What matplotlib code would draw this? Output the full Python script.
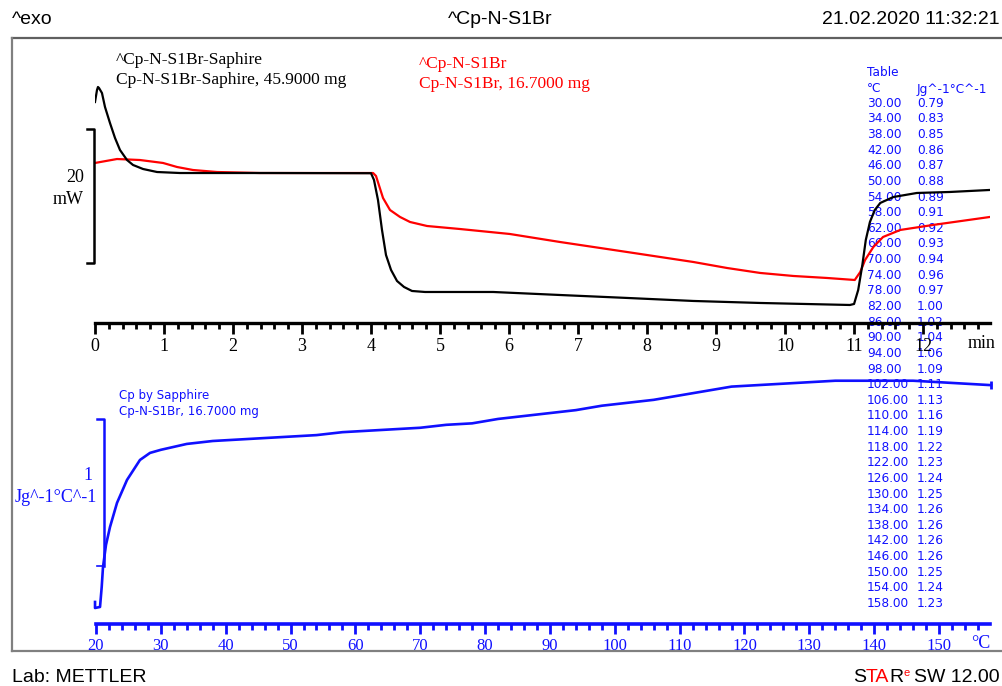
import numpy as np
import matplotlib
matplotlib.use("Agg")
import matplotlib.pyplot as plt
from matplotlib.ticker import MultipleLocator

# DSC signals, time in min, heat flow in mW (arbitrary offset)
black_t = [0, 0.029, 0.043, 0.058, 0.101, 0.145, 0.217, 0.29, 0.362, 0.464, 0.551, 0.696,
           0.899, 1.232, 2.5, 4.0, 4.043, 4.101, 4.159, 4.217, 4.29, 4.377, 4.478, 4.594,
           4.783, 5.77, 6.74, 7.71, 8.67, 9.64, 10.94, 11.0, 11.06, 11.12, 11.17, 11.23,
           11.3, 11.38, 11.57, 11.91, 12.39, 12.97]
black_mw = [24.03, 25.82, 26.27, 26.12, 25.37, 23.28, 20.9, 18.66, 16.87, 15.37, 14.63, 14.03,
            13.58, 13.43, 13.43, 13.4, 12.39, 9.4, 4.93, 1.19, -1.04, -2.69, -3.58, -4.18,
            -4.33, -4.33, -4.78, -5.22, -5.67, -5.97, -6.27, -6.12, -4.03, -0.3, 3.43, 6.12,
            7.91, 8.96, 9.85, 10.45, 10.6, 10.9]

red_t = [0, 0.319, 0.652, 0.986, 1.188, 1.42, 1.768, 2.39, 4.03, 4.072, 4.174, 4.275, 4.42,
         4.565, 4.812, 5.29, 6.01, 6.74, 7.71, 8.67, 9.16, 9.64, 10.12, 10.61, 11.01, 11.09,
         11.16, 11.28, 11.42, 11.67, 12.14, 12.97]
red_mw = [14.93, 15.52, 15.37, 14.93, 14.33, 13.88, 13.58, 13.43, 13.43, 12.99, 9.7, 7.91, 6.87,
          6.12, 5.52, 5.07, 4.33, 3.13, 1.64, 0.15, -0.75, -1.49, -1.94, -2.24, -2.54, -1.34,
          0.45, 2.39, 3.88, 4.93, 5.67, 6.87]

# Cp by sapphire: start-up part then the tabulated values
ramp_temp = [19.85, 19.85, 20.62, 20.88, 21.08, 21.54, 22.16, 23.24, 24.78, 26.78, 28.33]
ramp_cp = [-0.245, -0.286, -0.279, -0.143, -0.007, 0.143, 0.265, 0.429, 0.585, 0.721, 0.769]

table_temp = [30, 34, 38, 42, 46, 50, 54, 58, 62, 66, 70, 74, 78, 82, 86, 90, 94, 98, 102,
              106, 110, 114, 118, 122, 126, 130, 134, 138, 142, 146, 150, 154, 158]
table_cp = [0.79, 0.83, 0.85, 0.86, 0.87, 0.88, 0.89, 0.91, 0.92, 0.93, 0.94, 0.96, 0.97, 1.00,
            1.02, 1.04, 1.06, 1.09, 1.11, 1.13, 1.16, 1.19, 1.22, 1.23, 1.24, 1.25, 1.26, 1.26,
            1.26, 1.26, 1.25, 1.24, 1.23]

time_ticks = list(range(13))
temp_ticks = list(range(20, 151, 10))

SERIF = "Liberation Serif"
SANS = "Liberation Sans"
SMALL = "DejaVu Sans"
BLUE = "#1010ff"

W, H = 1002, 686
fig = plt.figure(figsize=(W / 100, H / 100), dpi=100, facecolor="white")

# background axes in pixel units for frame and texts
bg = fig.add_axes([0, 0, 1, 1])
bg.set_xlim(0, W)
bg.set_ylim(H, 0)
bg.axis("off")

bg.plot([12, W], [38, 38], color="#606060", lw=1.6)
bg.plot([12, 12], [38, 651], color="#808080", lw=1.6)
bg.plot([12, W], [651, 651], color="#808080", lw=1.6)

bg.text(12, 20, "^exo", fontsize=14, family=SANS, va="center", ha="left")
bg.text(500, 20, "^Cp-N-S1Br", fontsize=14, family=SANS, va="center", ha="center")
bg.text(1000, 20, "21.02.2020 11:32:21", fontsize=14, family=SANS, va="center", ha="right")
bg.text(12, 677, "Lab: METTLER", fontsize=14, family=SANS, va="center", ha="left")

# STARe SW 12.00, built right to left
sw = bg.text(1000, 686, "SW 12.00", fontsize=14, family=SANS, va="bottom", ha="right")
e_t = bg.annotate("e", xy=(0, 0.5), xycoords=sw, xytext=(-3.5, 0), textcoords="offset points",
                  fontsize=8, family=SANS, ha="right", va="bottom", color="red")
r_t = bg.annotate("R", xy=(0, 0), xycoords=(e_t, sw), fontsize=14, family=SANS,
                  ha="right", va="bottom")
ta_t = bg.annotate("TA", xy=(0, 0), xycoords=r_t, fontsize=14, family=SANS,
                   ha="right", va="bottom", color="red")
bg.annotate("S", xy=(0, 0), xycoords=ta_t, fontsize=14, family=SANS, ha="right", va="bottom")

# curve legends
bg.text(116, 60, "^Cp-N-S1Br-Saphire", fontsize=12.5, family=SERIF, va="center")
bg.text(116, 80, "Cp-N-S1Br-Saphire, 45.9000 mg", fontsize=12.5, family=SERIF, va="center")
bg.text(419, 64, "^Cp-N-S1Br", fontsize=12.5, family=SERIF, va="center", color="red")
bg.text(419, 84, "Cp-N-S1Br, 16.7000 mg", fontsize=12.5, family=SERIF, va="center", color="red")
bg.text(84, 177, "20", fontsize=13, family=SERIF, va="center", ha="right")
bg.text(84, 199, "mW", fontsize=13, family=SERIF, va="center", ha="right")
bg.text(968, 343, "min", fontsize=13, family=SERIF, va="center", ha="left")

bg.text(119, 395, "Cp by Sapphire", fontsize=8.5, family=SMALL, va="center", color=BLUE)
bg.text(119, 411, "Cp-N-S1Br, 16.7000 mg", fontsize=8.5, family=SMALL, va="center", color=BLUE)
bg.text(93, 475, "1", fontsize=13, family=SERIF, va="center", ha="right", color=BLUE)
bg.text(97, 497, "Jg^-1°C^-1", fontsize=13, family=SERIF, va="center", ha="right", color=BLUE)
bg.text(981, 643, "°C", fontsize=13, family=SERIF, va="center", ha="center", color=BLUE)

# table
bg.text(867, 73, "Table", fontsize=8.7, family=SMALL, va="center", color=BLUE)
bg.text(867, 89, "°C", fontsize=8.7, family=SMALL, va="center", color=BLUE)
bg.text(917, 89, "Jg^-1°C^-1", fontsize=8.7, family=SMALL, va="center", color=BLUE)
for i, (tt, cp) in enumerate(zip(table_temp, table_cp)):
    y = 103.3 + i * 15.63
    bg.text(867, y, f"{tt:.2f}", fontsize=8.7, family=SMALL, va="center", color=BLUE)
    bg.text(917, y, f"{cp:.2f}", fontsize=8.7, family=SMALL, va="center", color=BLUE)


def px_axes(x0, x1, y0, y1):
    return fig.add_axes([x0 / W, (H - y1) / H, (x1 - x0) / W, (y1 - y0) / H])


# top: heat flow vs time
ax1 = px_axes(95, 990, 45, 323)
ax1.patch.set_alpha(0)
ax1.plot(red_t, red_mw, color="red", lw=1.6, solid_joinstyle="round")
ax1.plot(black_t, black_mw, color="black", lw=1.6, solid_joinstyle="round")
ax1.set_xlim(0, 12.97)
ax1.set_ylim(-8.96, 32.54)
for s in ["top", "left", "right"]:
    ax1.spines[s].set_visible(False)
ax1.spines["bottom"].set_linewidth(2.4)
ax1.set_yticks([])
ax1.set_xticks(time_ticks)
ax1.xaxis.set_minor_locator(MultipleLocator(0.2))
ax1.tick_params(axis="x", which="major", length=8, width=2, labelsize=13, pad=3)
ax1.tick_params(axis="x", which="minor", length=4.5, width=2)
for lab in ax1.get_xticklabels():
    lab.set_family(SERIF)
# 20 mW scale bar
ax1.plot([-0.116, -0.015, -0.015, -0.116], [20, 20, 0, 0], color="black", lw=1.8, clip_on=False)

# bottom: Cp vs temperature
ax2 = px_axes(96, 990, 360, 624)
ax2.patch.set_alpha(0)
cp_temp = ramp_temp + table_temp
cp_vals = ramp_cp + table_cp
ax2.plot(cp_temp, cp_vals, color=BLUE, lw=1.9, solid_joinstyle="round", clip_on=False)
ax2.plot([cp_temp[-1]], [cp_vals[-1]], marker="|", ms=6, mew=2, color=BLUE, clip_on=False)
ax2.set_xlim(20, 157.86)
ax2.set_ylim(-0.395, 1.401)
for s in ["top", "left", "right"]:
    ax2.spines[s].set_visible(False)
ax2.spines["bottom"].set_linewidth(2.6)
ax2.spines["bottom"].set_color(BLUE)
ax2.set_yticks([])
ax2.set_xticks(temp_ticks)
ax2.xaxis.set_minor_locator(MultipleLocator(2))
ax2.tick_params(axis="x", which="major", length=7, width=2, color=BLUE, labelcolor=BLUE,
                labelsize=12, pad=3)
ax2.tick_params(axis="x", which="minor", length=4, width=2, color=BLUE)
for lab in ax2.get_xticklabels():
    lab.set_family(SERIF)
# 1 Jg^-1°C^-1 scale bar
ax2.plot([20.15, 21.23, 21.23], [1, 1, 0], color=BLUE, lw=1.8, clip_on=False)
ax2.plot([20.15, 21.23], [0, 0], color=BLUE, lw=1.2, clip_on=False)

fig.savefig("out.png", dpi=100, facecolor="white")
